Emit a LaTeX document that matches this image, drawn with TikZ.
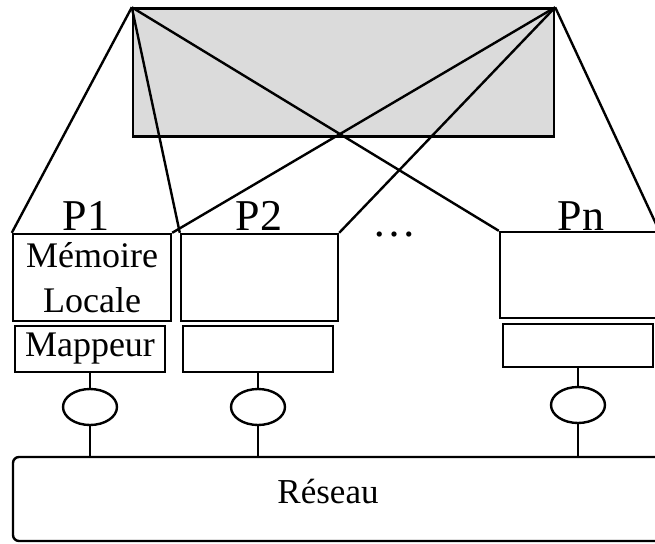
\documentclass[tikz,border=0pt]{standalone}
\usepackage{fontspec}
\setmainfont{Liberation Serif}
\usetikzlibrary{shapes.geometric}

\begin{document}
\begin{tikzpicture}[x=1pt, y=-1pt, line width=2.4pt,
	box/.style={draw, rectangle, inner sep=0pt, font=\fontsize{36}{45}\selectfont, align=center},
	plabel/.style={anchor=base, inner sep=0pt, font=\fontsize{44}{50}\selectfont},
	port/.style={draw, ellipse, inner sep=0pt, minimum width=54pt, minimum height=36pt}]
	\useasboundingbox (0,0) rectangle (655,543);
	\clip (0,0) rectangle (655,543);
	% shared memory
	\node [box, fill=black!14, minimum width=421pt, minimum height=128pt] (shm) at (343.5,72.5) {};
	% processors
	\node [box, minimum width=158pt, minimum height=87pt] (mem1) at (92,277.5) {Mémoire\\Locale};
	\node [box, minimum width=150pt, minimum height=46pt] (map1) at (90,349) {Mappeur};
	\node [box, minimum width=157pt, minimum height=87pt] (mem2) at (259.5,277.5) {};
	\node [box, minimum width=150pt, minimum height=46pt] (map2) at (258,349) {};
	\node [box, minimum width=158pt, minimum height=86pt] (memn) at (579,275) {};
	\node [box, minimum width=150pt, minimum height=43pt] (mapn) at (578,345.5) {};
	\node [plabel] (p1) at (86,230) {P1};
	\node [plabel] (p2) at (259,230) {P2};
	\node [plabel] (pn) at (581,230) {Pn};
	\node [plabel] (dots) at (394,236) {…};
	% network
	\node [draw, rounded corners=6pt, inner sep=0pt, minimum width=667pt, minimum height=84pt] (net) at (346.5,499) {};
	\node [font=\fontsize{35}{42}\selectfont, anchor=base] (netlabel) at (328,503) {Réseau};
	\node [port] (port1) at (90,407) {};
	\node [port] (port2) at (258,407) {};
	\node [port] (portn) at (578,405) {};
	\draw (map1.south) -- (port1.north) (port1.south) -- (port1.south |- net.north);
	\draw (map2.south) -- (port2.north) (port2.south) -- (port2.south |- net.north);
	\draw (mapn.south) -- (portn.north) (portn.south) -- (portn.south |- net.north);
	% fan out of the shared memory
	\draw (shm.north west) -- (mem1.north west);
	\draw (shm.north west) -- (mem2.north west);
	\draw (shm.north west) -- (memn.north west);
	\draw (shm.north east) -- (mem1.north east);
	\draw (shm.north east) -- (mem2.north east);
	\draw (shm.north east) -- (memn.north east);
\end{tikzpicture}
\end{document}
